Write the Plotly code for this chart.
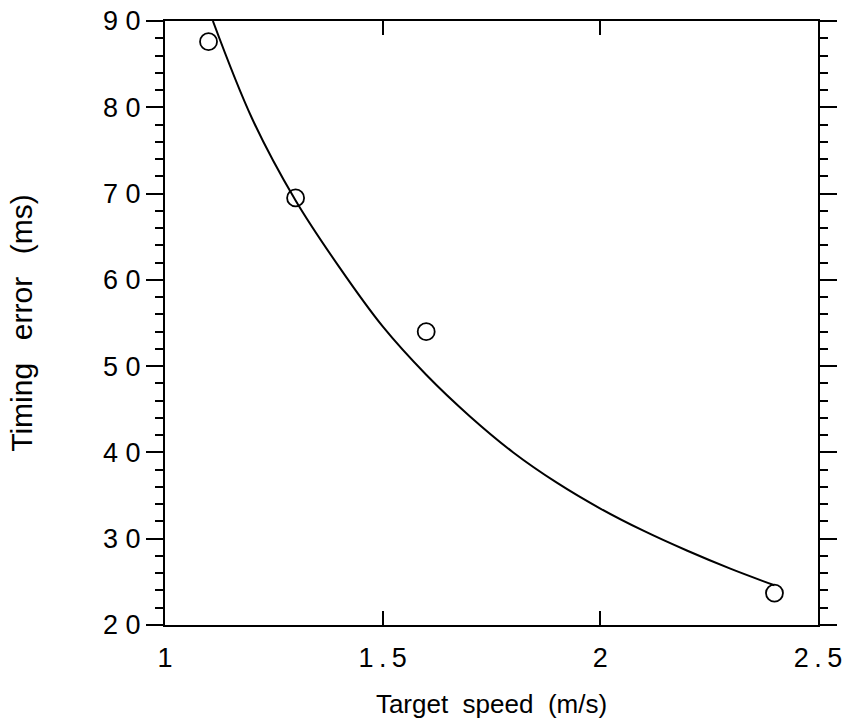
import plotly.graph_objects as go

# Measured data points
speed = [1.1, 1.3, 1.6, 2.4]
timing_error = [87.6, 69.5, 54.0, 23.7]

# Fitted curve
curve_speed = [1.11, 1.2, 1.3, 1.4, 1.5, 1.6, 1.7, 1.8, 1.9, 2.0, 2.1, 2.2, 2.3, 2.4]
curve_error = [90.0, 78.7, 69.2, 61.5, 54.6, 49.0, 44.2, 40.0, 36.5, 33.5, 30.9, 28.6, 26.5, 24.6]

# Tick labels
x_tickvals = [1, 1.5, 2, 2.5]
x_ticktext = ["1", "1\u2009.\u20095", "2", "2\u2009.\u20095"]
y_tickvals = [20, 30, 40, 50, 60, 70, 80, 90]
y_ticktext = ["2 0", "3 0", "4 0", "5 0", "6 0", "7 0", "8 0", "9 0"]

FONT = "Liberation Sans, Arial, Helvetica, sans-serif"

fig = go.Figure()
fig.add_trace(go.Scatter(
    x=curve_speed, y=curve_error, mode="lines",
    line=dict(color="black", width=2, shape="spline"),
    showlegend=False, hoverinfo="skip",
))
fig.add_trace(go.Scatter(
    x=speed, y=timing_error, mode="markers",
    marker=dict(symbol="circle-open", size=17, color="black", line=dict(width=1.8, color="black")),
    showlegend=False,
))

fig.update_layout(
    width=843, height=725,
    margin=dict(l=165, r=25, t=21, b=100),
    paper_bgcolor="white", plot_bgcolor="white",
    font=dict(family=FONT, color="black"),
    xaxis=dict(
        range=[1, 2.5], tickvals=x_tickvals, ticktext=x_ticktext,
        ticks="inside", ticklen=14, tickwidth=2, tickcolor="black",
        showline=True, linewidth=2, linecolor="black", mirror="ticks",
        showgrid=False, zeroline=False, automargin=False,
        ticklabeloverflow="allow",
        tickfont=dict(size=27, family=FONT, color="black"),
        ticklabelstandoff=8,
        title=dict(text="Target\u00a0\u00a0speed\u00a0\u00a0(m/s)", font=dict(size=26, family=FONT, color="black"), standoff=22),
    ),
    yaxis=dict(
        range=[20, 90], tickvals=y_tickvals, ticktext=y_ticktext,
        ticks="outside", ticklen=17, tickwidth=2, tickcolor="black",
        minor=dict(dtick=2, ticks="outside", ticklen=8, tickwidth=2, tickcolor="black"),
        showline=True, linewidth=2, linecolor="black", mirror="ticks",
        showgrid=False, zeroline=False, automargin=False,
        ticklabeloverflow="allow",
        tickfont=dict(size=27, family=FONT, color="black"),
        ticklabelstandoff=0,
        title=dict(text="Timing\u00a0\u00a0\u2009error\u00a0\u00a0\u2009(ms)", font=dict(size=30, family=FONT, color="black"), standoff=62),
    ),
)

fig.write_html(
    "out.html",
    config={"displayModeBar": False},
    post_script="document.body.style.margin='0px'; document.body.style.overflow='hidden';",
)
